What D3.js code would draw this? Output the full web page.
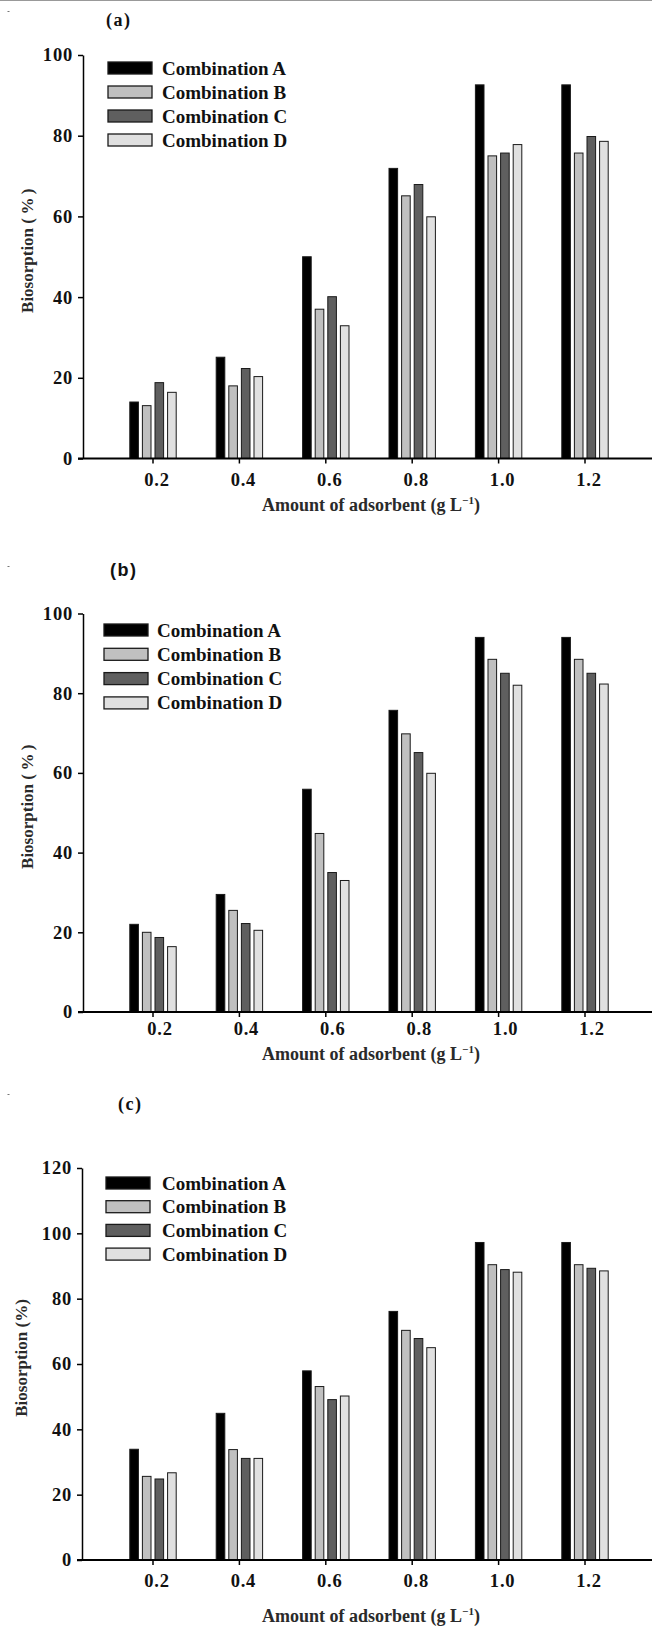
<!DOCTYPE html>
<html>
<head>
<meta charset="utf-8">
<script src="https://cdn.jsdelivr.net/npm/d3@7/dist/d3.min.js"></script>
<style>
  html, body { margin: 0; padding: 0; background: #fff; }
  svg { display: block; }
  text { font-family: 'Liberation Serif', 'Times New Roman', serif; font-weight: bold; fill: #111; }
</style>
</head>
<body>
<svg id="fig" width="652" height="1631"></svg>
<script>
'use strict';

var doses = ['0.2', '0.4', '0.6', '0.8', '1.0', '1.2'];
var combinations = ['Combination A', 'Combination B', 'Combination C', 'Combination D'];

// panel (a)
var aCombA = [14.0, 25.1, 50.0, 71.9, 92.6, 92.6];
var aCombB = [13.1, 18.0, 37.0, 65.1, 75.0, 75.7];
var aCombC = [18.8, 22.3, 40.1, 67.9, 75.7, 79.8];
var aCombD = [16.4, 20.3, 32.9, 59.9, 77.8, 78.6];

// panel (b)
var bCombA = [22.0, 29.5, 55.9, 75.7, 94.0, 94.0];
var bCombB = [20.0, 25.5, 44.8, 69.8, 88.5, 88.5];
var bCombC = [18.7, 22.2, 35.0, 65.1, 85.0, 85.0];
var bCombD = [16.4, 20.5, 33.0, 59.9, 82.0, 82.3];

// panel (c)
var cCombA = [33.9, 44.9, 57.9, 76.1, 97.2, 97.2];
var cCombB = [25.6, 33.8, 53.1, 70.3, 90.4, 90.4];
var cCombC = [24.8, 31.1, 49.1, 67.8, 88.9, 89.3];
var cCombD = [26.7, 31.1, 50.2, 65.0, 88.1, 88.5];

var ticks100 = [0, 20, 40, 60, 80, 100];
var ticks120 = [0, 20, 40, 60, 80, 100, 120];

var fills = ['#000000', '#c0c0c0', '#5f5f5f', '#e0e0e0'];
var edge = '#1a1a1a';

var panels = [
    {
        label: '(a)', labelSans: false, labelX: 106, labelY: 26, speckY: 11,
        series: [aCombA, aCombB, aCombC, aCombD], ticks: ticks100,
        axisX: 83, top: 55, bottom: 458.5,
        legendX: 108, legendY: 62, legendStep: 24, legendTextX: 162,
        tickDx: 4, tickLabelY: 27, titleY: 52, yTitleX: 27,
        yTitle: 'Biosorption (\u2009%\u2009)'
    },
    {
        label: '(b)', labelSans: true, labelX: 110, labelY: 576, speckY: 566,
        series: [bCombA, bCombB, bCombC, bCombD], ticks: ticks100,
        axisX: 83, top: 613.5, bottom: 1012,
        legendX: 104, legendY: 624, legendStep: 24.3, legendTextX: 157,
        tickDx: 7, tickLabelY: 23, titleY: 48, yTitleX: 27,
        yTitle: 'Biosorption (\u2009%\u2009)'
    },
    {
        label: '(c)', labelSans: false, labelX: 118, labelY: 1110, speckY: 1094,
        series: [cCombA, cCombB, cCombC, cCombD], ticks: ticks120,
        axisX: 82, top: 1168, bottom: 1560,
        legendX: 106, legendY: 1177, legendStep: 23.7, legendTextX: 162,
        tickDx: 4, tickLabelY: 27, titleY: 62, yTitleX: 21,
        yTitle: 'Biosorption (%)'
    }
];

var svg = d3.select('#fig');

// faint scan line at the top edge
svg.append('line')
    .attr('x1', 0).attr('x2', 652)
    .attr('y1', 0.5).attr('y2', 0.5)
    .attr('stroke', '#999')
    .attr('stroke-width', 1);

panels.forEach(function(p) {
    svg.append('g').call(drawPanel, p);
});

function drawPanel(g, p) {
    var x = d3.scaleBand()
        .domain(doses)
        .range([109.8, 628.2]);

    var xSub = d3.scaleBand()
        .domain(d3.range(combinations.length))
        .range([-23.2, 23.2])
        .paddingInner(0.317);

    var y = d3.scaleLinear()
        .domain([0, p.ticks[p.ticks.length - 1]])
        .range([p.bottom, p.top]);

    // tiny speck left of the panel label
    g.append('rect')
        .attr('x', 7.5).attr('y', p.speckY)
        .attr('width', 2).attr('height', 1)
        .attr('fill', '#777');

    g.append('text')
        .attr('x', p.labelX)
        .attr('y', p.labelY)
        .style('font-family', p.labelSans ? "'Liberation Sans', Arial, sans-serif" : null)
        .style('font-size', '18px')
        .style('letter-spacing', '1.5px')
        .text(p.label);

    g.call(drawBars, p, x, xSub, y);
    g.call(drawAxes, p, x, y);
    g.call(drawLegend, p);
}

function drawBars(g, p, x, xSub, y) {
    var groups = g.selectAll('g.dose')
        .data(doses)
        .enter().append('g')
        .attr('class', 'dose')
        .attr('transform', function(d) {
            return 'translate(' + (x(d) + x.bandwidth() / 2) + ',0)';
        });

    groups.selectAll('rect')
        .data(function(d, i) {
            return p.series.map(function(s, k) { return {k: k, v: s[i]}; });
        })
        .enter().append('rect')
        .attr('x', function(d) { return xSub(d.k); })
        .attr('width', xSub.bandwidth())
        .attr('y', function(d) { return y(d.v); })
        .attr('height', function(d) { return p.bottom - y(d.v); })
        .attr('fill', function(d) { return fills[d.k]; })
        .attr('stroke', edge)
        .attr('stroke-width', 1);
}

function drawAxes(g, p, x, y) {
    var yAxis = g.append('g')
        .attr('transform', 'translate(' + p.axisX + ',0)')
        .call(d3.axisLeft(y)
            .tickValues(p.ticks)
            .tickSize(5)
            .tickSizeOuter(0)
            .tickPadding(5));

    yAxis.select('.domain').attr('stroke', '#000').attr('stroke-width', 1.5);
    yAxis.selectAll('.tick line').attr('stroke', '#000').attr('stroke-width', 1.5);
    yAxis.selectAll('.tick text')
        .attr('font-family', null)
        .attr('font-size', null)
        .style('font-size', '18.5px')
        .style('letter-spacing', '0.8px');

    var xAxis = g.append('g')
        .attr('transform', 'translate(0,' + p.bottom + ')')
        .call(d3.axisBottom(x)
            .tickSize(5)
            .tickSizeOuter(0));

    xAxis.select('.domain').remove();
    xAxis.selectAll('.tick line').attr('stroke', '#000').attr('stroke-width', 1.5);
    xAxis.selectAll('.tick text')
        .attr('font-family', null)
        .attr('font-size', null)
        .attr('dx', p.tickDx)
        .attr('dy', 0)
        .attr('y', p.tickLabelY)
        .style('font-size', '18.5px')
        .style('letter-spacing', '0.8px');

    // baseline runs from the y axis out to the right edge
    g.append('line')
        .attr('x1', p.axisX - 5).attr('x2', 652)
        .attr('y1', p.bottom).attr('y2', p.bottom)
        .attr('stroke', '#000')
        .attr('stroke-width', 2);

    var title = g.append('text')
        .attr('x', 371)
        .attr('y', p.bottom + p.titleY)
        .attr('text-anchor', 'middle')
        .style('font-size', '18px')
        .style('fill', '#2a2a2a');
    title.append('tspan').text('Amount of adsorbent (g L');
    title.append('tspan')
        .attr('dy', -7)
        .style('font-size', '11px')
        .text('\u22121');
    title.append('tspan')
        .attr('dy', 7)
        .text(')');

    g.append('text')
        .attr('transform', 'translate(' + p.yTitleX + ',' + ((p.top + p.bottom) / 2 - 6) + ') rotate(-90)')
        .attr('text-anchor', 'middle')
        .attr('dy', '0.35em')
        .style('font-size', '17px')
        .style('fill', '#2a2a2a')
        .text(p.yTitle);
}

function drawLegend(g, p) {
    var items = g.selectAll('g.legend-item')
        .data(combinations)
        .enter().append('g')
        .attr('class', 'legend-item')
        .attr('transform', function(d, i) {
            return 'translate(0,' + (p.legendY + i * p.legendStep) + ')';
        });

    items.append('rect')
        .attr('x', p.legendX)
        .attr('y', 0)
        .attr('width', 44)
        .attr('height', 12)
        .attr('fill', function(d, i) { return fills[i]; })
        .attr('stroke', edge)
        .attr('stroke-width', 1.3);

    items.append('text')
        .attr('x', p.legendTextX)
        .attr('y', 12.5)
        .style('font-size', '19px')
        .text(function(d) { return d; });
}
</script>
</body>
</html>
